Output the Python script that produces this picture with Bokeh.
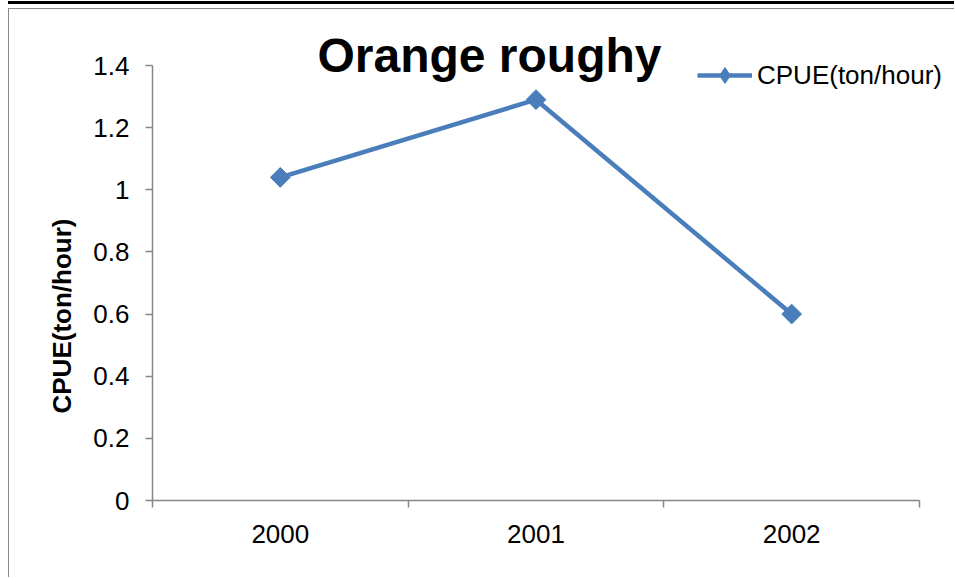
import math
from bokeh.plotting import figure
from bokeh.models import (Range1d, FixedTicker, Label, Legend, LegendItem, Title)
from bokeh.embed import file_html
from bokeh.resources import INLINE

# ---- data ----
years = ["2000", "2001", "2002"]
cpue = [1.04, 1.29, 0.60]
y_ticks = [0, 0.2, 0.4, 0.6, 0.8, 1, 1.2, 1.4]
y_tick_labels = ["0", "0.2", "0.4", "0.6", "0.8", "1", "1.2", "1.4"]
title_text = "Orange roughy"
series_name = "CPUE(ton/hour)"
y_label = "CPUE(ton/hour)"

FONT = "Liberation Sans"
BLUE = "#4A7EBB"
AXIS = "#868686"

# ---- layout (pixels) ----
W, H = 946, 569
LEFT, BOTTOM = 143, 78            # space for the axes
AXIS_LEN_X, AXIS_LEN_Y = 767, 435  # length of the drawn axes
frame_w = W - LEFT
frame_h = H - BOTTOM

n = len(years)
x_centres = [i + 0.5 for i in range(n)]
x_bounds = list(range(n + 1))
y_top = y_ticks[-1]

# the plotting frame extends past the axes so the title and legend may sit there
x_end = n * frame_w / AXIS_LEN_X
y_end = y_top * frame_h / AXIS_LEN_Y

p = figure(width=W, height=H, output_backend="svg", toolbar_location=None,
           x_range=Range1d(0, x_end), y_range=Range1d(0, y_end),
           min_border_left=LEFT, min_border_right=0,
           min_border_top=0, min_border_bottom=BOTTOM)
p.margin = (8, 0, 0, 8)
p.styles = {"border-top": "1px solid #8a8a8a", "border-left": "1px solid #8a8a8a",
            "box-shadow": "0 -4px 0 0 #ffffff, 0 -7px 0 0 #000000"}
p.outline_line_color = None
p.grid.visible = False
p.background_fill_color = "white"
p.border_fill_color = "white"

# x axis: labels at category centres, ticks at category boundaries
xa = p.xaxis[0]
xa.bounds = (0, n)
xa.ticker = FixedTicker(ticks=x_centres, minor_ticks=x_bounds)
xa.major_label_overrides = {c: y for c, y in zip(x_centres, years)}
xa.major_tick_out = 0
xa.major_tick_in = 0
xa.minor_tick_out = 7
xa.minor_tick_in = 0
xa.minor_tick_line_color = AXIS
xa.axis_line_color = AXIS
xa.axis_line_width = 1.5
xa.minor_tick_line_width = 1.5
xa.major_label_text_font = FONT
xa.major_label_text_font_size = "26px"
xa.major_label_text_color = "black"
xa.major_label_standoff = 17

ya = p.yaxis[0]
ya.bounds = (0, y_top)
ya.ticker = FixedTicker(ticks=y_ticks, minor_ticks=[])
ya.major_label_overrides = {t: l for t, l in zip(y_ticks, y_tick_labels)}
ya.major_tick_out = 7
ya.major_tick_in = 0
ya.major_tick_line_color = AXIS
ya.major_tick_line_width = 1.5
ya.minor_tick_line_color = None
ya.axis_line_color = AXIS
ya.axis_line_width = 1.5
ya.major_label_text_font = FONT
ya.major_label_text_font_size = "26px"
ya.major_label_text_color = "black"
ya.major_label_standoff = 16

# y-axis title, placed as a side title so it can be shifted along the axis
ytitle = Title(text=y_label, align="left", offset=87, standoff=27,
               text_font=FONT, text_font_size="26px", text_font_style="bold",
               text_color="black")
p.add_layout(ytitle, "left")

ln = p.line(x_centres, cpue, line_color=BLUE, line_width=4.5)
# diamond glyph (hidden beneath the markers) used for the legend symbol
lg = p.scatter(x_centres, cpue, marker="diamond", size=16,
               fill_color=BLUE, line_color=BLUE)
mk = p.scatter(x_centres, cpue, marker="square", size=14, angle=math.pi / 4,
               fill_color=BLUE, line_color=BLUE)

legend = Legend(items=[LegendItem(label=series_name, renderers=[ln, lg])],
                location=(545, 405), padding=0, margin=0, spacing=0,
                glyph_width=55, glyph_height=40, label_height=26,
                label_standoff=5, border_line_color=None,
                background_fill_alpha=0,
                label_text_font=FONT, label_text_font_size="26px",
                label_text_color="black")
p.add_layout(legend)

title = Label(x=1.318, y=1.431, text=title_text, text_align="center",
              text_baseline="middle", text_font=FONT, text_font_size="48px",
              text_font_style="bold", text_color="black")
p.add_layout(title)

open("out.html", "w").write(file_html(p, INLINE))
